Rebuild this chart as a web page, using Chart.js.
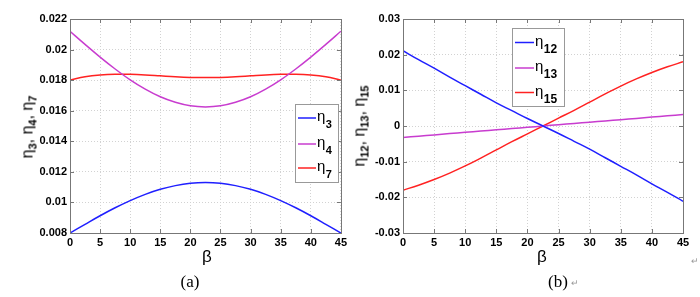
<!DOCTYPE html>
<html>
<head>
<meta charset="utf-8">
<script src="https://cdn.jsdelivr.net/npm/chart.js@4.4.1/dist/chart.umd.min.js"></script>
<style>
  body { margin: 0; background: #fff; }
  #wrap { position: relative; width: 700px; height: 297px; overflow: hidden; font-family: 'Liberation Sans', Arial, sans-serif; }
  canvas { position: absolute; top: 0; }
  .lbl { position: absolute; white-space: nowrap; transform: translate(-50%, -50%); line-height: 1; color: #000; }
  .ytitle { transform: translate(-50%, -50%) rotate(-90deg); font-size: 16px; }
  .ytitle sub { font-size: 11px; font-weight: bold; vertical-align: -4px; }
  .beta { font-size: 17px; }
  .cap { font-family: 'Liberation Serif', 'Times New Roman', serif; font-size: 17px; }
  .mark { font-size: 9px; color: #999; }
</style>
</head>
<body>
<div id="wrap">
  <canvas id="chartA" width="350" height="297" style="left:0"></canvas>
  <canvas id="chartB" width="350" height="297" style="left:350px"></canvas>
  <div class="lbl ytitle" style="left:29px;top:127px">η<sub>3</sub>, η<sub>4</sub>, η<sub>7</sub></div>
  <div class="lbl ytitle" style="left:361px;top:126px">η<sub>12</sub>, η<sub>13</sub>, η<sub>15</sub></div>
  <div class="lbl beta" style="left:207px;top:256px">β</div>
  <div class="lbl beta" style="left:542px;top:256px">β</div>
  <div class="lbl cap" style="left:190px;top:281px">(a)</div>
  <div class="lbl cap" style="left:558px;top:281px">(b)</div>
  <div class="lbl mark" style="left:575px;top:283px">↵</div>
  <div class="lbl mark" style="left:695px;top:261px">↵</div>
</div>
<script>
// beta in degrees, sampled every 2.5
const beta = [0, 2.5, 5, 7.5, 10, 12.5, 15, 17.5, 20, 22.5, 25, 27.5, 30, 32.5, 35, 37.5, 40, 42.5, 45];

// panel (a)
const eta3 = [0.0080, 0.00857, 0.00913, 0.00965, 0.01012, 0.01053, 0.01086, 0.0111, 0.01125, 0.0113,
              0.01125, 0.0111, 0.01086, 0.01053, 0.01012, 0.00965, 0.00913, 0.00857, 0.0080];
const eta4 = [0.0212, 0.02034, 0.01951, 0.01873, 0.01802, 0.01741, 0.01691, 0.01655, 0.01632, 0.01625,
              0.01632, 0.01655, 0.01691, 0.01741, 0.01802, 0.01873, 0.01951, 0.02034, 0.0212];
const eta7 = [0.0180, 0.01822, 0.01834, 0.01839, 0.01838, 0.01834, 0.01828, 0.01822, 0.01818, 0.01817,
              0.01818, 0.01822, 0.01828, 0.01834, 0.01838, 0.01839, 0.01834, 0.01822, 0.0180];

// panel (b)
const eta12 = [0.0211, 0.0186, 0.0162, 0.0137, 0.0113, 0.0089, 0.0065, 0.0043, 0.0021, 0,
               -0.0021, -0.0043, -0.0065, -0.0089, -0.0113, -0.0137, -0.0162, -0.0186, -0.0211];
const eta13 = [-0.0032, -0.00284, -0.00249, -0.00213, -0.00178, -0.00142, -0.00107, -0.00071, -0.00036, 0,
               0.00036, 0.00071, 0.00107, 0.00142, 0.00178, 0.00213, 0.00249, 0.00284, 0.0032];
const eta15 = [-0.0180, -0.0166, -0.0150, -0.0132, -0.0112, -0.0090, -0.0067, -0.0044, -0.0022, 0,
               0.0022, 0.0044, 0.0067, 0.0090, 0.0112, 0.0132, 0.0150, 0.0166, 0.0180];

const xTicks = [0, 5, 10, 15, 20, 25, 30, 35, 40, 45];
const yTicksA = [0.008, 0.010, 0.012, 0.014, 0.016, 0.018, 0.020, 0.022];
const yTicksB = [-0.03, -0.02, -0.01, 0, 0.01, 0.02, 0.03];

const BLUE = '#1f1fff', MAGENTA = '#c83ccf', RED = '#ff2222';
const FONT = 'Liberation Sans, Arial, sans-serif';

// box, inward ticks and legend drawn over the plot
const framePlugin = {
  id: 'frame',
  afterDatasetsDraw(chart, args, opts) {
    const { ctx, chartArea: a, scales: { x, y } } = chart;
    ctx.save();
    ctx.strokeStyle = '#777';
    ctx.lineWidth = 1;
    ctx.strokeRect(Math.round(a.left) + 0.5, Math.round(a.top) + 0.5, Math.round(a.width), Math.round(a.height));
    ctx.beginPath();
    x.ticks.forEach(t => {
      const px = Math.round(x.getPixelForValue(t.value)) + 0.5;
      ctx.moveTo(px, a.bottom); ctx.lineTo(px, a.bottom - 4);
      ctx.moveTo(px, a.top); ctx.lineTo(px, a.top + 4);
    });
    y.ticks.forEach(t => {
      const py = Math.round(y.getPixelForValue(t.value)) + 0.5;
      ctx.moveTo(a.left, py); ctx.lineTo(a.left + 4, py);
      ctx.moveTo(a.right, py); ctx.lineTo(a.right - 4, py);
    });
    ctx.stroke();

    // legend
    const b = opts.box;
    ctx.fillStyle = '#fff';
    ctx.fillRect(b.x, b.y, b.w, b.h);
    ctx.strokeStyle = '#999';
    ctx.strokeRect(b.x + 0.5, b.y + 0.5, b.w, b.h);
    chart.data.datasets.forEach((ds, i) => {
      const ry = b.y + b.rows[i];
      ctx.strokeStyle = ds.borderColor;
      ctx.lineWidth = 1.5;
      ctx.beginPath();
      ctx.moveTo(b.x + 3, ry); ctx.lineTo(b.x + b.line, ry);
      ctx.stroke();
      ctx.fillStyle = '#000';
      ctx.textBaseline = 'alphabetic';
      ctx.textAlign = 'left';
      ctx.font = '15px ' + FONT;
      const tx = b.x + b.line + 1;
      ctx.fillText('η', tx, ry + 3);
      const w = ctx.measureText('η').width;
      ctx.font = 'bold ' + b.sub + 'px ' + FONT;
      ctx.fillText(ds.label, tx + w + 0.5, ry + 10);
    });
    ctx.restore();
  }
};

function makeChart(id, series, yTicks, decimals, yWidth, padRight, box) {
  const tickFont = { family: FONT, size: 11, weight: 'bold' };
  return new Chart(document.getElementById(id), {
    type: 'line',
    data: {
      datasets: series.map(s => ({
        label: s.label,
        data: beta.map((b, i) => ({ x: b, y: s.values[i] })),
        borderColor: s.color,
        borderWidth: 1.5,
        pointRadius: 0,
        fill: false,
        tension: 0.4
      }))
    },
    options: {
      responsive: false,
      animation: false,
      layout: { padding: { left: 0, top: 19, right: padRight, bottom: 0 } },
      plugins: {
        legend: { display: false },
        tooltip: { enabled: false },
        frame: { box: box }
      },
      scales: {
        x: {
          type: 'linear',
          min: xTicks[0],
          max: xTicks[xTicks.length - 1],
          afterBuildTicks: s => { s.ticks = xTicks.map(v => ({ value: v })); },
          afterFit: s => { s.height = 64; },
          grid: { color: '#d2d2d2', drawTicks: false },
          border: { display: false, dash: [1, 2] },
          ticks: { padding: 3, color: '#000', font: tickFont, maxRotation: 0, autoSkip: false, callback: v => String(v) }
        },
        y: {
          min: yTicks[0],
          max: yTicks[yTicks.length - 1],
          afterBuildTicks: s => { s.ticks = yTicks.map(v => ({ value: v })); },
          afterFit: s => { s.width = yWidth; },
          grid: { color: '#d2d2d2', drawTicks: false },
          border: { display: false, dash: [1, 2] },
          ticks: { padding: 3, color: '#000', font: tickFont, autoSkip: false, callback: v => Number(v.toFixed(decimals)).toString() }
        }
      }
    },
    plugins: [framePlugin]
  });
}

makeChart('chartA', [
  { label: '3', values: eta3, color: BLUE },
  { label: '4', values: eta4, color: MAGENTA },
  { label: '7', values: eta7, color: RED }
], yTicksA, 3, 70, 6, { x: 295, y: 104, w: 43, h: 78, rows: [14, 40, 64], line: 21, sub: 11 });

makeChart('chartB', [
  { label: '12', values: eta12, color: BLUE },
  { label: '13', values: eta13, color: MAGENTA },
  { label: '15', values: eta15, color: RED }
], yTicksB, 2, 53, 17, { x: 162, y: 28, w: 52, h: 78, rows: [14.5, 40, 64.5], line: 22, sub: 12 });
</script>
</body>
</html>
